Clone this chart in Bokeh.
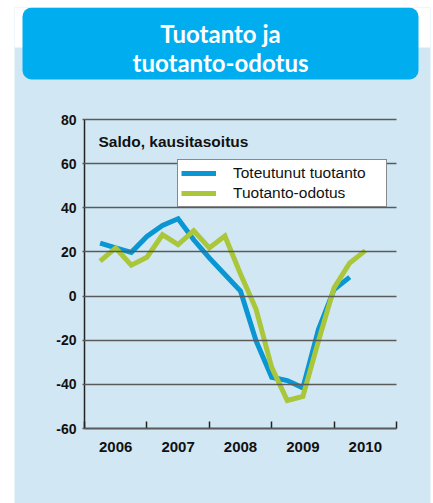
from bokeh.plotting import figure
from bokeh.models import (BoxAnnotation, Label, FixedTicker, Legend, LegendItem,
                          Range1d)
from bokeh.embed import file_html
from bokeh.resources import INLINE

# ---- data (quarterly, x = year + quarter/4) ----
quarters_actual = [2006.25, 2006.5, 2006.75, 2007.0, 2007.25, 2007.5, 2007.75, 2008.0,
                   2008.25, 2008.5, 2008.75, 2009.0, 2009.25, 2009.5, 2009.75, 2010.0,
                   2010.25]
actual = [24.0, 21.8, 19.8, 27.0, 32.0, 35.0, 25.5, 17.3, 9.8, 2.3, -20.3, -36.8,
          -38.3, -41.6, -15.0, 3.0, 8.6]
quarters_expect = quarters_actual + [2010.5]
expect = [15.8, 21.8, 14.0, 17.6, 27.8, 23.3, 29.6, 21.8, 27.2, 10.0, -6.0, -32.3,
          -47.3, -45.5, -20.3, 3.7, 15.0, 20.6]
year_labels = ["2006", "2007", "2008", "2009", "2010"]
year_centers = [2006.5, 2007.5, 2008.5, 2009.5, 2010.5]
year_bounds = [2006, 2007, 2008, 2009, 2010, 2011]
y_ticks = [-60, -40, -20, 0, 20, 40, 60, 80]
y_tick_labels = ["-60", "-40", "-20", "0", "20", "40", "60", "80"]
series_names = ["Toteutunut tuotanto", "Tuotanto-odotus"]
title_lines = ["Tuotanto ja", "tuotanto-odotus"]
subtitle = "Saldo, kausitasoitus"

PANEL = "#D1E8F4"
TITLE_BG = "#00AEEF"
BLUE = "#0A96D2"
GREEN = "#AAC63A"
FONT = "Liberation Sans"

W, H = 433, 503
# frame = light blue panel area (canvas px)
FL, FR, FT, FB = 14, 430, 7, 503
# where the chart's axes sit (canvas px)
AL, AR, AT, AB = 84, 396, 119, 428
X0, X1, Y0, Y1 = 2006, 2011, -60, 80
kx = (AR - AL) / (X1 - X0)
ky = (AB - AT) / (Y1 - Y0)

p = figure(width=W, height=H, output_backend="svg", toolbar_location=None,
           x_range=Range1d(X0 - (AL - FL) / kx, X1 + (FR - AR) / kx),
           y_range=Range1d(Y0 - (FB - AB) / ky, Y1 + (AT - FT) / ky),
           min_border_left=FL, min_border_right=W - FR,
           min_border_top=FT, min_border_bottom=H - FB,
           border_fill_color="white", background_fill_color=PANEL,
           outline_line_color=None)


def dx(cx):
    return X0 + (cx - AL) / kx


def dy(cy):
    return Y1 - (cy - AT) / ky


def box(l, r, t, b, color, radius=0):
    return BoxAnnotation(left=dx(l), right=dx(r), top=dy(t), bottom=dy(b),
                         fill_color=color, fill_alpha=1, line_color=None,
                         border_radius=radius, level="underlay")


# white page above the light blue panel, then the title box
p.add_layout(box(FL, FR, FT, 47, "white"))
p.add_layout(box(22, 418, 7, 79, TITLE_BG, radius=9))
for line, base in zip(title_lines, [33, 62]):
    p.add_layout(Label(x=dx(220), y=dy(base), text=line, text_color="white",
                       text_font="Lato", text_font_style="bold",
                       text_font_size="24px", text_align="center",
                       text_baseline="alphabetic"))

# axes (fixed inside the panel); long y ticks act as the horizontal grid
p.xgrid.visible = False
p.ygrid.visible = False

yax = p.yaxis[0]
yax.fixed_location = X0
yax.bounds = (Y0, Y1)
yax.ticker = FixedTicker(ticks=y_ticks)
yax.major_label_overrides = {t: l for t, l in zip(y_ticks, y_tick_labels)}
yax.axis_line_color = "#222222"
yax.axis_line_width = 1.5
yax.major_tick_in = AR - AL
yax.major_tick_out = 2
yax.major_tick_line_color = "#5a5a5a"
yax.major_tick_line_width = 1.5
yax.minor_tick_line_color = None
yax.major_label_standoff = 6
yax.major_label_text_font = FONT
yax.major_label_text_font_style = "bold"
yax.major_label_text_font_size = "14px"
yax.major_label_text_color = "#111111"

xax = p.xaxis[0]
xax.fixed_location = Y0
xax.bounds = (X0, X1)
xax.ticker = FixedTicker(ticks=year_centers, minor_ticks=year_bounds)
xax.major_label_overrides = {c: l for c, l in zip(year_centers, year_labels)}
xax.axis_line_color = "#222222"
xax.axis_line_width = 1.5
xax.major_tick_line_color = None
xax.minor_tick_in = 7
xax.minor_tick_out = 0
xax.minor_tick_line_color = "#222222"
xax.minor_tick_line_width = 1.5
xax.major_label_standoff = 7
xax.major_label_text_font = FONT
xax.major_label_text_font_style = "bold"
xax.major_label_text_font_size = "15px"
xax.major_label_text_color = "#111111"

# series
r1 = p.line(quarters_actual, actual, line_color=BLUE, line_width=5, line_join="miter")
r2 = p.line(quarters_expect, expect, line_color=GREEN, line_width=5, line_join="miter")

p.add_layout(Label(x=dx(98), y=dy(140.7), text=subtitle, text_font=FONT,
                   text_font_style="bold", text_font_size="15.5px",
                   text_color="#111111", text_baseline="middle"))

legend = Legend(items=[LegendItem(label=series_names[0], renderers=[r1]),
                       LegendItem(label=series_names[1], renderers=[r2])],
                location=(177 - FL, FB - 206.7), margin=0, padding=3,
                spacing=0, glyph_width=35, glyph_height=20, label_height=20,
                label_standoff=17, label_width=150,
                label_text_font=FONT, label_text_font_size="15.5px",
                label_text_color="#111111",
                border_line_color="#111111", border_line_width=1,
                background_fill_color="white", background_fill_alpha=1)
p.add_layout(legend)

open("out.html", "w").write(file_html(p, INLINE))
